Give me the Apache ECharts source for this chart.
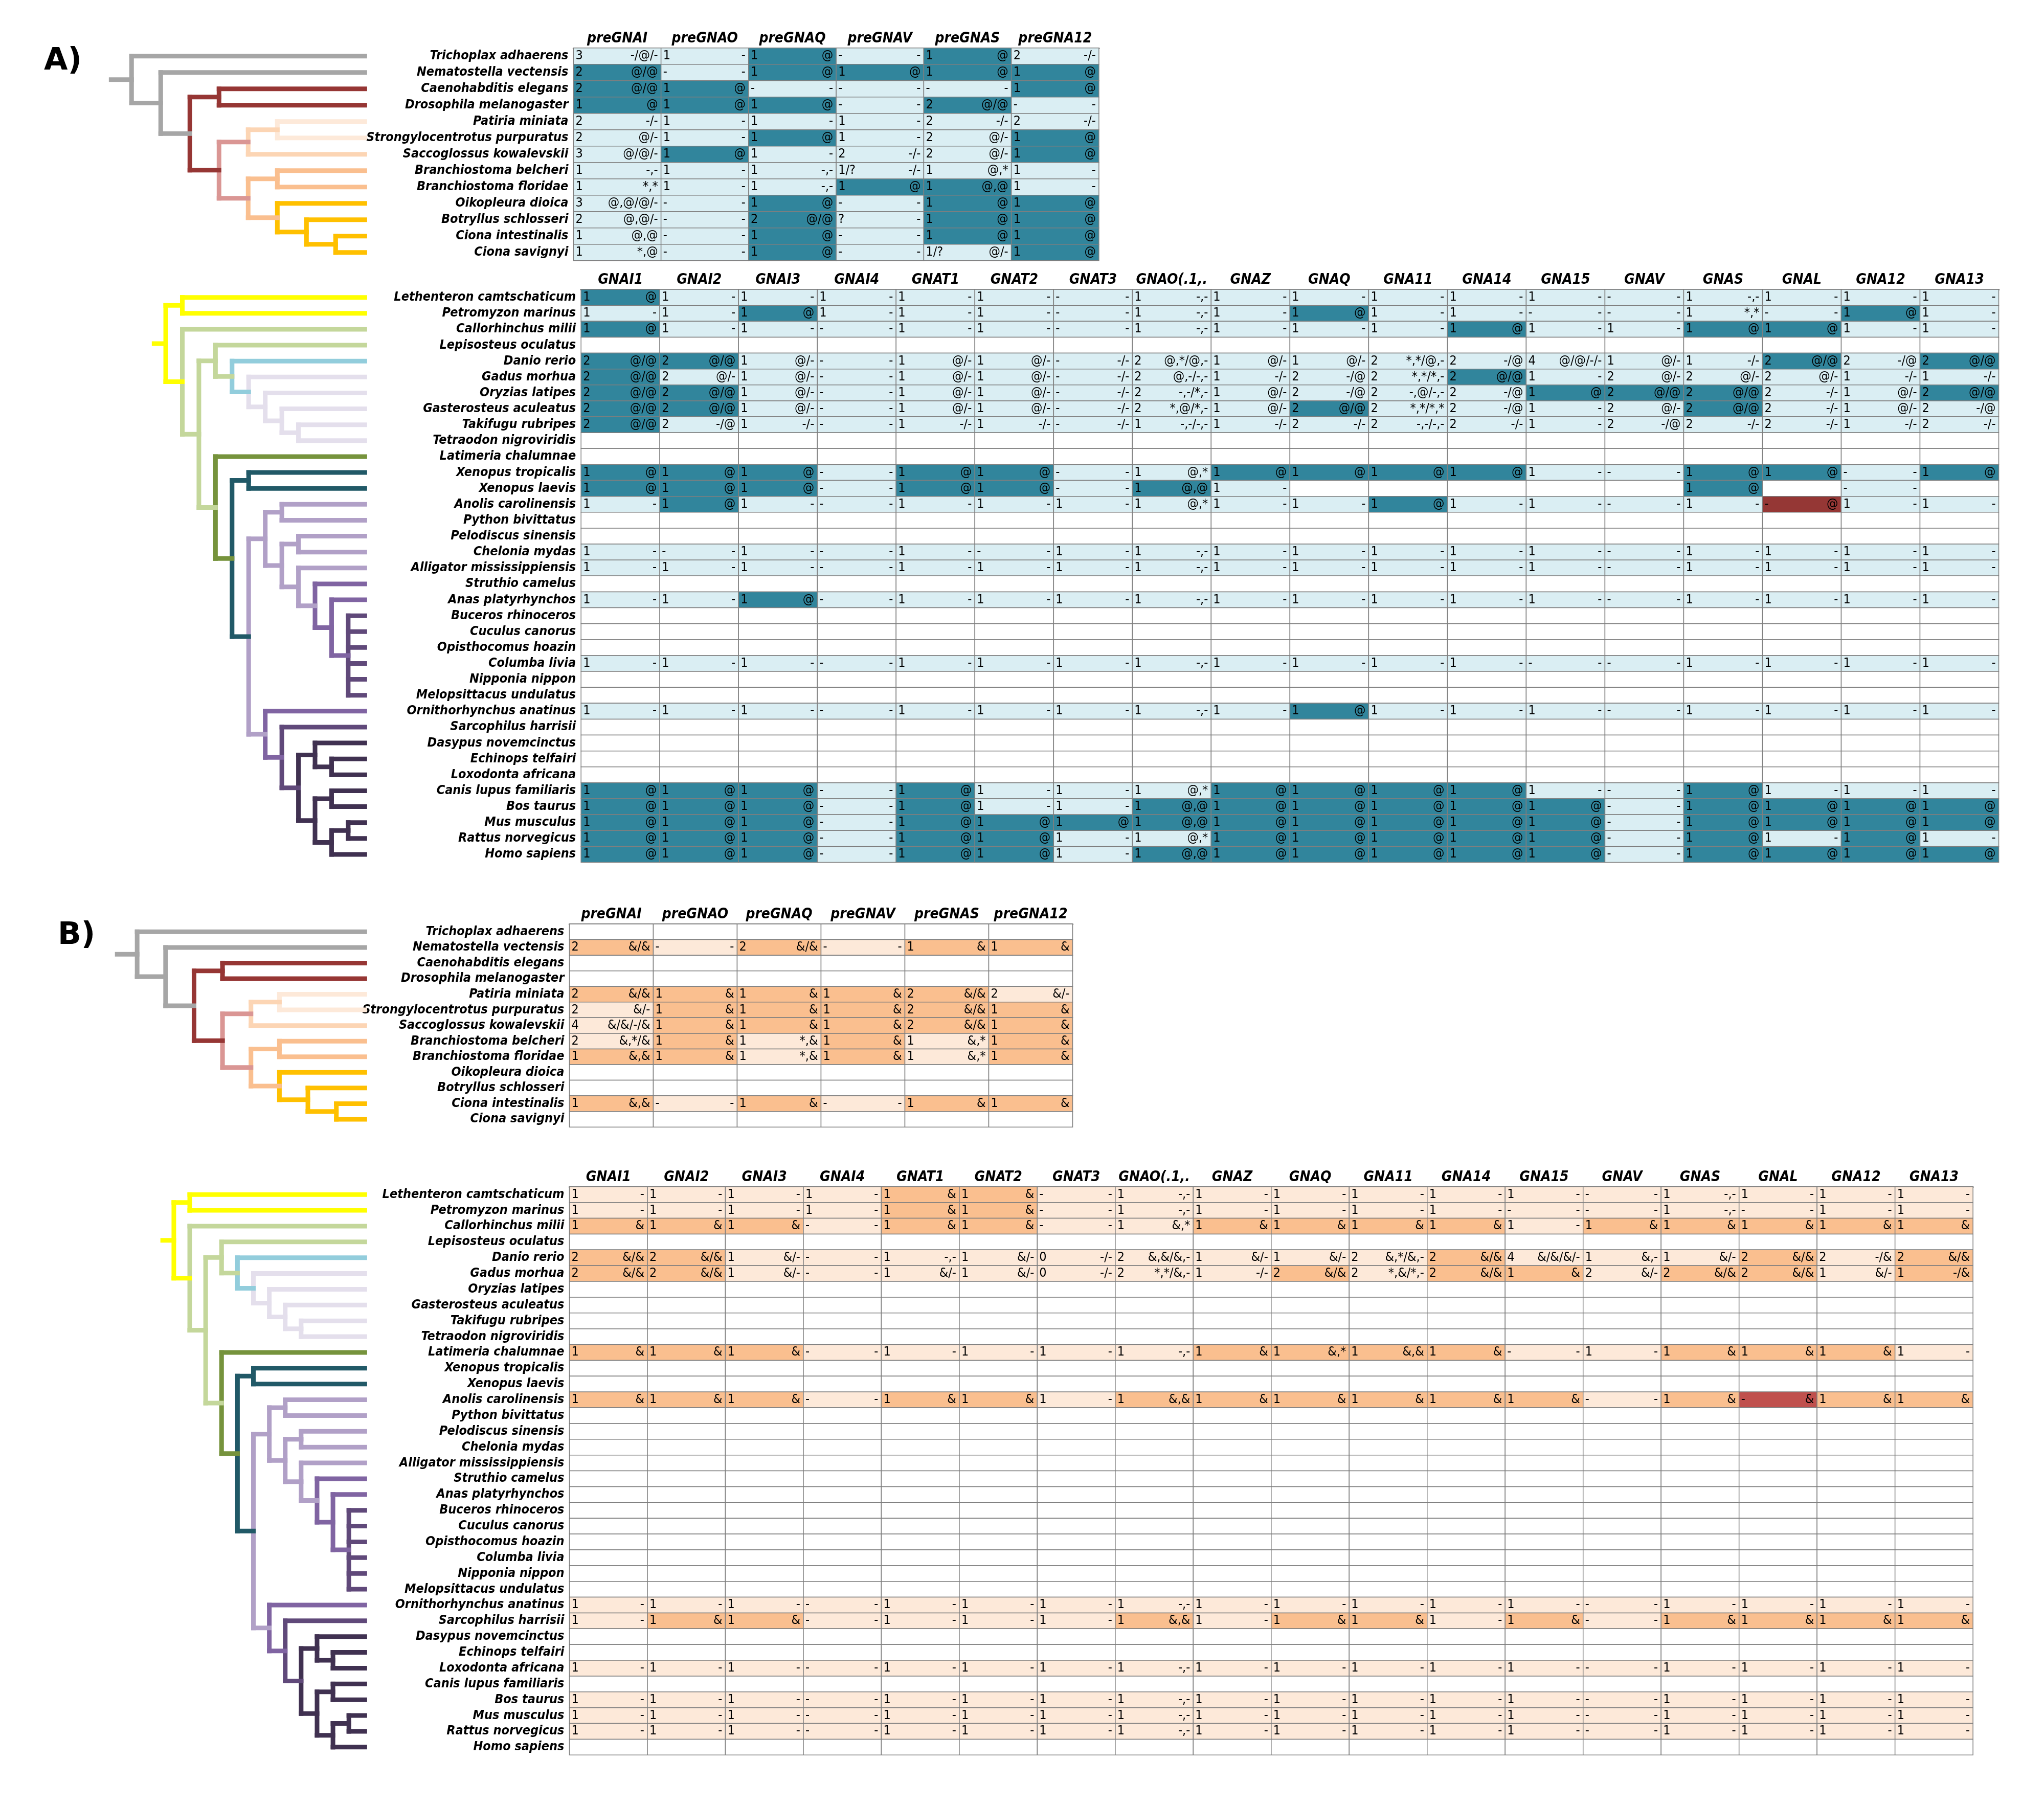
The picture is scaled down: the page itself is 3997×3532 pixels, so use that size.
<!DOCTYPE html>
<html>
<head>
<meta charset="UTF-8">
<script src="https://cdn.jsdelivr.net/npm/echarts@6/dist/echarts.min.js"></script>
<style>html,body{margin:0;background:#fff}#main{width:3997px;height:3532px}</style>
</head>
<body>
<div id="main"></div>
<script>
// 物种与基因列
var preCols = ['preGNAI', 'preGNAO', 'preGNAQ', 'preGNAV', 'preGNAS', 'preGNA12'];
var vertCols = ['GNAI1', 'GNAI2', 'GNAI3', 'GNAI4', 'GNAT1', 'GNAT2', 'GNAT3', 'GNAO(.1,.', 'GNAZ', 'GNAQ', 'GNA11', 'GNA14', 'GNA15', 'GNAV', 'GNAS', 'GNAL', 'GNA12', 'GNA13'];
var invSpecies = ['Trichoplax adhaerens', 'Nematostella vectensis', 'Caenohabditis elegans', 'Drosophila melanogaster', 'Patiria miniata', 'Strongylocentrotus purpuratus', 'Saccoglossus kowalevskii', 'Branchiostoma belcheri', 'Branchiostoma floridae', 'Oikopleura dioica', 'Botryllus schlosseri', 'Ciona intestinalis', 'Ciona savignyi'];
var vertSpecies = ['Lethenteron camtschaticum', 'Petromyzon marinus', 'Callorhinchus milii', 'Lepisosteus oculatus', 'Danio rerio', 'Gadus morhua', 'Oryzias latipes', 'Gasterosteus aculeatus', 'Takifugu rubripes', 'Tetraodon nigroviridis', 'Latimeria chalumnae', 'Xenopus tropicalis', 'Xenopus laevis', 'Anolis carolinensis', 'Python bivittatus', 'Pelodiscus sinensis', 'Chelonia mydas', 'Alligator mississippiensis', 'Struthio camelus', 'Anas platyrhynchos', 'Buceros rhinoceros', 'Cuculus canorus', 'Opisthocomus hoazin', 'Columba livia', 'Nipponia nippon', 'Melopsittacus undulatus', 'Ornithorhynchus anatinus', 'Sarcophilus harrisii', 'Dasypus novemcinctus', 'Echinops telfairi', 'Loxodonta africana', 'Canis lupus familiaris', 'Bos taurus', 'Mus musculus', 'Rattus norvegicus', 'Homo sapiens'];

// 单元格: 首字母 d=深色 l=浅色 r=红色，后面为 "数目 注释"
var E = '';
var stdA = 'l1 -|l1 -|l1 -|l- -|l1 -|l1 -|l1 -|l1 -,-|l1 -|l1 -|l1 -|l1 -|l1 -|l- -|l1 -|l1 -|l1 -|l1 -';
var stdB = stdA;

var rowsAtop = [
  'l3 -/@/-|l1 -|d1 @|l- -|d1 @|l2 -/-',
  'd2 @/@|l- -|d1 @|d1 @|d1 @|d1 @',
  'd2 @/@|d1 @|l- -|l- -|l- -|d1 @',
  'd1 @|d1 @|d1 @|l- -|d2 @/@|l- -',
  'l2 -/-|l1 -|l1 -|l1 -|l2 -/-|l2 -/-',
  'l2 @/-|l1 -|d1 @|l1 -|l2 @/-|d1 @',
  'l3 @/@/-|d1 @|l1 -|l2 -/-|l2 @/-|d1 @',
  'l1 -,-|l1 -|l1 -,-|l1/? -/-|l1 @,*|l1 -',
  'l1 *,*|l1 -|l1 -,-|d1 @|d1 @,@|l1 -',
  'l3 @,@/@/-|l- -|d1 @|l- -|d1 @|d1 @',
  'l2 @,@/-|l- -|d2 @/@|l? -|d1 @|d1 @',
  'l1 @,@|l- -|d1 @|l- -|d1 @|d1 @',
  'l1 *,@|l- -|d1 @|l- -|l1/? @/-|d1 @'
];

var rowsAbot = [
  'd1 @|l1 -|l1 -|l1 -|l1 -|l1 -|l- -|l1 -,-|l1 -|l1 -|l1 -|l1 -|l1 -|l- -|l1 -,-|l1 -|l1 -|l1 -',
  'l1 -|l1 -|d1 @|l1 -|l1 -|l1 -|l- -|l1 -,-|l1 -|d1 @|l1 -|l1 -|l- -|l- -|l1 *,*|l- -|d1 @|l1 -',
  'd1 @|l1 -|l1 -|l- -|l1 -|l1 -|l- -|l1 -,-|l1 -|l1 -|l1 -|d1 @|l1 -|l1 -|d1 @|d1 @|l1 -|l1 -',
  E,
  'd2 @/@|d2 @/@|l1 @/-|l- -|l1 @/-|l1 @/-|l- -/-|l2 @,*/@,-|l1 @/-|l1 @/-|l2 *,*/@,-|l2 -/@|l4 @/@/-/-|l1 @/-|l1 -/-|d2 @/@|l2 -/@|d2 @/@',
  'd2 @/@|l2 @/-|l1 @/-|l- -|l1 @/-|l1 @/-|l- -/-|l2 @,-/-,-|l1 -/-|l2 -/@|l2 *,*/*,-|d2 @/@|l1 -|l2 @/-|l2 @/-|l2 @/-|l1 -/-|l1 -/-',
  'd2 @/@|d2 @/@|l1 @/-|l- -|l1 @/-|l1 @/-|l- -/-|l2 -,-/*,-|l1 @/-|l2 -/@|l2 -,@/-,-|l2 -/@|d1 @|d2 @/@|d2 @/@|l2 -/-|l1 @/-|d2 @/@',
  'd2 @/@|d2 @/@|l1 @/-|l- -|l1 @/-|l1 @/-|l- -/-|l2 *,@/*,-|l1 @/-|d2 @/@|l2 *,*/*,*|l2 -/@|l1 -|l2 @/-|d2 @/@|l2 -/-|l1 @/-|l2 -/@',
  'd2 @/@|l2 -/@|l1 -/-|l- -|l1 -/-|l1 -/-|l- -/-|l1 -,-/-,-|l1 -/-|l2 -/-|l2 -,-/-,-|l2 -/-|l1 -|l2 -/@|l2 -/-|l2 -/-|l1 -/-|l2 -/-',
  E, E,
  'd1 @|d1 @|d1 @|l- -|d1 @|d1 @|l- -|l1 @,*|d1 @|d1 @|d1 @|d1 @|l1 -|l- -|d1 @|d1 @|l- -|d1 @',
  'd1 @|d1 @|d1 @|l- -|d1 @|d1 @|l- -|d1 @,@|l1 -|_|_|_|_|_|d1 @|_|l- -|_',
  'l1 -|d1 @|l1 -|l- -|l1 -|l1 -|l1 -|l1 @,*|l1 -|l1 -|d1 @|l1 -|l1 -|l- -|l1 -|r- @|l1 -|l1 -',
  E, E,
  'l1 -|l- -|l1 -|l- -|l1 -|l- -|l1 -|l1 -,-|l1 -|l1 -|l1 -|l1 -|l1 -|l- -|l1 -|l1 -|l1 -|l1 -',
  stdA,
  E,
  'l1 -|l1 -|d1 @|l- -|l1 -|l1 -|l1 -|l1 -,-|l1 -|l1 -|l1 -|l1 -|l1 -|l- -|l1 -|l1 -|l1 -|l1 -',
  E, E, E,
  'l1 -|l1 -|l1 -|l- -|l1 -|l1 -|l1 -|l1 -,-|l1 -|l1 -|l1 -|l1 -|l- -|l- -|l1 -|l1 -|l1 -|l1 -',
  E, E,
  'l1 -|l1 -|l1 -|l- -|l1 -|l1 -|l1 -|l1 -,-|l1 -|d1 @|l1 -|l1 -|l1 -|l- -|l1 -|l1 -|l1 -|l1 -',
  E, E, E, E,
  'd1 @|d1 @|d1 @|l- -|d1 @|l1 -|l1 -|l1 @,*|d1 @|d1 @|d1 @|d1 @|l1 -|l- -|d1 @|l1 -|l1 -|l1 -',
  'd1 @|d1 @|d1 @|l- -|d1 @|l1 -|l1 -|d1 @,@|d1 @|d1 @|d1 @|d1 @|d1 @|l- -|d1 @|d1 @|d1 @|d1 @',
  'd1 @|d1 @|d1 @|l- -|d1 @|d1 @|d1 @|d1 @,@|d1 @|d1 @|d1 @|d1 @|d1 @|l- -|d1 @|d1 @|d1 @|d1 @',
  'd1 @|d1 @|d1 @|l- -|d1 @|d1 @|l1 -|l1 @,*|d1 @|d1 @|d1 @|d1 @|d1 @|l- -|d1 @|l1 -|d1 @|l1 -',
  'd1 @|d1 @|d1 @|l- -|d1 @|d1 @|l1 -|d1 @,@|d1 @|d1 @|d1 @|d1 @|d1 @|l- -|d1 @|d1 @|d1 @|d1 @'
];

var rowsBtop = [
  E,
  'd2 &/&|l- -|d2 &/&|l- -|d1 &|d1 &',
  E, E,
  'd2 &/&|d1 &|d1 &|d1 &|d2 &/&|l2 &/-',
  'l2 &/-|d1 &|d1 &|d1 &|d2 &/&|d1 &',
  'l4 &/&/-/&|d1 &|d1 &|d1 &|d2 &/&|d1 &',
  'l2 &,*/&|d1 &|l1 *,&|d1 &|l1 &,*|d1 &',
  'd1 &,&|d1 &|l1 *,&|d1 &|l1 &,*|d1 &',
  E, E,
  'd1 &,&|l- -|d1 &|l- -|d1 &|d1 &',
  E
];

var rowsBbot = [
  'l1 -|l1 -|l1 -|l1 -|d1 &|d1 &|l- -|l1 -,-|l1 -|l1 -|l1 -|l1 -|l1 -|l- -|l1 -,-|l1 -|l1 -|l1 -',
  'l1 -|l1 -|l1 -|l1 -|d1 &|d1 &|l- -|l1 -,-|l1 -|l1 -|l1 -|l1 -|l- -|l- -|l1 -,-|l- -|l1 -|l1 -',
  'd1 &|d1 &|d1 &|l- -|d1 &|d1 &|l- -|l1 &,*|d1 &|d1 &|d1 &|d1 &|l1 -|d1 &|d1 &|d1 &|d1 &|d1 &',
  E,
  'd2 &/&|d2 &/&|l1 &/-|l- -|l1 -,-|l1 &/-|l0 -/-|l2 &,&/&,-|l1 &/-|l1 &/-|l2 &,*/&,-|d2 &/&|l4 &/&/&/-|l1 &,-|l1 &/-|d2 &/&|l2 -/&|d2 &/&',
  'd2 &/&|d2 &/&|l1 &/-|l- -|l1 &/-|l1 &/-|l0 -/-|l2 *,*/&,-|l1 -/-|d2 &/&|l2 *,&/*,-|d2 &/&|d1 &|l2 &/-|d2 &/&|d2 &/&|l1 &/-|d1 -/&',
  E, E, E, E,
  'd1 &|d1 &|d1 &|l- -|l1 -|l1 -|l1 -|l1 -,-|d1 &|d1 &,*|d1 &,&|d1 &|l- -|l1 -|d1 &|d1 &|d1 &|l1 -',
  E, E,
  'd1 &|d1 &|d1 &|l- -|d1 &|d1 &|l1 -|d1 &,&|d1 &|d1 &|d1 &|d1 &|d1 &|l- -|d1 &|r- &|d1 &|d1 &',
  E, E, E, E, E, E, E, E, E, E, E, E,
  stdB,
  'l1 -|d1 &|d1 &|l- -|l1 -|l1 -|l1 -|d1 &,&|l1 -|d1 &|d1 &|l1 -|d1 &|l- -|d1 &|d1 &|d1 &|d1 &',
  E, E,
  stdB,
  E,
  stdB, stdB, stdB,
  E
];

// 系统树: 数字为叶(行号)，数组首项为枝颜色
var treeInv = ['#a6a6a6', 0, ['#a6a6a6', 1, ['#963634', ['#963634', 2, 3],
  ['#da9694', ['#fcd5b4', ['#fde9d9', 4, 5], 6],
    ['#fabf8f', ['#fabf8f', 7, 8], ['#ffc000', 9, ['#ffc000', 10, ['#ffc000', 11, 12]]]]]]]];
var treeVert = ['#ffff00', ['#ffff00', 0, 1], ['#c4d79b', 2,
  ['#c4d79b',
    ['#c4d79b', 3, ['#92cddc', 4, ['#e4dfec', 5, ['#e4dfec', 6, ['#e4dfec', 7, ['#e4dfec', 8, 9]]]]]],
    ['#76933c', 10, ['#215967', ['#215967', 11, 12],
      ['#b1a0c7',
        ['#b1a0c7', ['#b1a0c7', 13, 14], ['#b1a0c7', ['#b1a0c7', 15, 16], ['#b1a0c7', 17, ['#8064a2', 18, ['#8064a2', 19, ['#60497a', 20, 21, 22, 23, 24, 25]]]]]],
        ['#8064a2', 26, ['#60497a', 27, ['#403151', ['#403151', 28, ['#403151', 29, 30]],
          ['#403151', ['#403151', 31, 32], ['#403151', ['#403151', 33, 34], 35]]]]]]]]]]];

var palA = {d: '#31859c', l: '#daeef3', r: '#953735'};
var palB = {d: '#fabf8f', l: '#fde9d9', r: '#c0504d'};
var FONT = '"Liberation Sans Narrow", "DejaVu Sans Condensed", sans-serif';

function treeDepth(n) {
  if (typeof n === 'number') return 0;
  var m = 0;
  for (var i = 1; i < n.length; i++) m = Math.max(m, treeDepth(n[i]));
  return m + 1;
}
function buildTree(root) {
  var leafX = treeDepth(root);
  var segs = [];
  function lay(n, d) {
    if (typeof n === 'number') return {x: leafX, y: n};
    var kids = [];
    for (var i = 1; i < n.length; i++) kids.push(lay(n[i], d + 1));
    var ys = kids.map(function (k) { return k.y; });
    var lo = Math.min.apply(null, ys), hi = Math.max.apply(null, ys);
    segs.push([d, lo, d, hi, n[0]]);
    kids.forEach(function (k) { segs.push([d, k.y, k.x, k.y, n[0]]); });
    return {x: d, y: (lo + hi) / 2};
  }
  var r = lay(root, 0);
  segs.push([-0.7, r.y, 0, r.y, root[0]]);
  return {segs: segs, leafX: leafX};
}

function parseRows(rows, ncol) {
  var out = [];
  rows.forEach(function (row, r) {
    var cells = row === '' ? [] : row.split('|');
    for (var c = 0; c < ncol; c++) {
      var s = cells[c] || '_';
      var lvl = s.charAt(0);
      var rest = s.slice(1);
      var sp = rest.indexOf(' ');
      out.push({c: c, r: r, lvl: lvl, n: sp < 0 ? rest : rest.slice(0, sp), a: sp < 0 ? '' : rest.slice(sp + 1)});
    }
  });
  return out;
}

var K = 0.988;
var blocks = [
  {cols: preCols, sp: invSpecies, rows: rowsAtop, tree: treeInv, pal: palA, tl: 220, tr: 722, left: 1135, right: 2175, top: 95, bottom: 516},
  {cols: vertCols, sp: vertSpecies, rows: rowsAbot, tree: treeVert, pal: palA, tl: 305, tr: 722, left: 1150, right: 3956, top: 573, bottom: 1707},
  {cols: preCols, sp: invSpecies, rows: rowsBtop, tree: treeInv, pal: palB, tl: 232, tr: 722, left: 1127, right: 2123, top: 1829, bottom: 2231},
  {cols: vertCols, sp: vertSpecies, rows: rowsBbot, tree: treeVert, pal: palB, tl: 322, tr: 722, left: 1127, right: 3905, top: 2349, bottom: 3474}
];

var W = 3997, H = 3532;
var grid = [], xAxis = [], yAxis = [], series = [];
blocks.forEach(function (b, bi) {
  // 表格
  var gi = grid.length;
  grid.push({left: b.left * K, width: (b.right - b.left) * K, top: b.top * K, height: (b.bottom - b.top) * K});
  xAxis.push({type: 'category', gridIndex: gi, position: 'top', data: b.cols,
    axisLine: {lineStyle: {color: '#404040', width: 3}}, axisTick: {show: false},
    axisLabel: {fontFamily: FONT, fontWeight: 'bold', fontStyle: 'italic', fontSize: 28, color: '#000', margin: 4, interval: 0}});
  yAxis.push({type: 'category', gridIndex: gi, inverse: true, data: b.sp,
    axisLine: {show: false}, axisTick: {show: false},
    axisLabel: {fontFamily: FONT, fontWeight: 'bold', fontStyle: 'italic', fontSize: 25, color: '#000', margin: 10, interval: 0}});
  var cells = parseRows(b.rows, b.cols.length);
  var pal = b.pal;
  series.push({type: 'custom', xAxisIndex: gi, yAxisIndex: gi, silent: true,
    data: cells.map(function (d) { return [d.c, d.r]; }),
    renderItem: function (params, api) {
      var d = cells[params.dataIndex];
      var p = api.coord([api.value(0), api.value(1)]);
      var s = api.size([1, 1]);
      var x0 = p[0] - s[0] / 2, y0 = p[1] - s[1] / 2;
      var fill = pal[d.lvl] || '#ffffff';
      var kids = [{type: 'rect', shape: {x: x0, y: y0, width: s[0], height: s[1]},
        style: {fill: fill, stroke: '#7f7f7f', lineWidth: 1.5}}];
      if (d.lvl !== '_') {
        kids.push({type: 'text', style: {x: x0 + 4, y: p[1], text: d.n, fill: '#000', font: '25px ' + FONT, textAlign: 'left', textVerticalAlign: 'middle'}});
        kids.push({type: 'text', style: {x: x0 + s[0] - 6, y: p[1], text: d.a, fill: '#000', font: '25px ' + FONT, textAlign: 'right', textVerticalAlign: 'middle'}});
      }
      return {type: 'group', children: kids};
    }});
  // 系统树
  var t = buildTree(b.tree);
  var ti = grid.length;
  grid.push({left: b.tl * K, width: (b.tr - b.tl) * K, top: b.top * K, height: (b.bottom - b.top) * K});
  xAxis.push({type: 'value', gridIndex: ti, min: -0.7, max: t.leafX, show: false});
  yAxis.push({type: 'value', gridIndex: ti, min: -0.5, max: b.sp.length - 0.5, inverse: true, show: false});
  var segs = t.segs;
  series.push({type: 'custom', xAxisIndex: ti, yAxisIndex: ti, silent: true, clip: false,
    data: segs.map(function (s) { return [s[0], s[1], s[2], s[3]]; }),
    renderItem: function (params, api) {
      var a = api.coord([api.value(0), api.value(1)]);
      var c = api.coord([api.value(2), api.value(3)]);
      return {type: 'line', shape: {x1: a[0], y1: a[1], x2: c[0], y2: c[1]},
        style: {stroke: segs[params.dataIndex][4], lineWidth: 9, lineCap: 'square'}};
    }});
});

var chart = echarts.init(document.getElementById('main'), null, {width: W, height: H});
chart.setOption({
  backgroundColor: '#fff',
  animation: false,
  graphic: [
    {type: 'text', left: 86, top: 90, style: {text: 'A)', font: 'bold 60px "DejaVu Sans", sans-serif', fill: '#000'}},
    {type: 'text', left: 113, top: 1800, style: {text: 'B)', font: 'bold 60px "DejaVu Sans", sans-serif', fill: '#000'}}
  ],
  grid: grid, xAxis: xAxis, yAxis: yAxis, series: series
});
</script>
</body>
</html>
